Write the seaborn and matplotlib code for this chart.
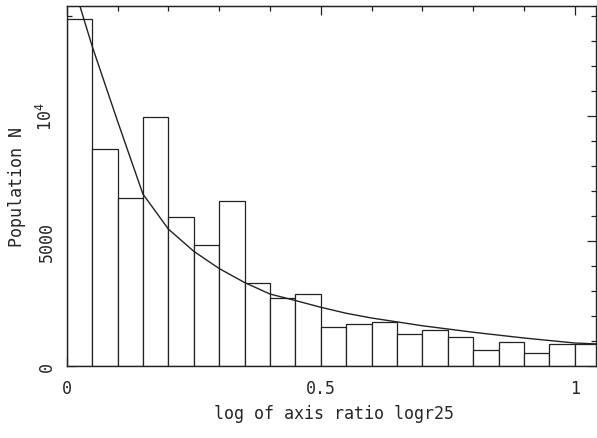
import numpy as np
import pandas as pd
import matplotlib
matplotlib.use('Agg')
import matplotlib.pyplot as plt
from matplotlib.ticker import MultipleLocator, FixedLocator, FixedFormatter, NullFormatter
import seaborn as sns

# histogram of log axis ratio, bins of 0.05
bin_left = [0.00, 0.05, 0.10, 0.15, 0.20, 0.25, 0.30, 0.35, 0.40, 0.45, 0.50,
            0.55, 0.60, 0.65, 0.70, 0.75, 0.80, 0.85, 0.90, 0.95, 1.00]
counts = [13900, 8680, 6710, 9970, 5950, 4850, 6590, 3320, 2720, 2900, 1550,
          1670, 1750, 1270, 1440, 1150, 650, 970, 530, 870, 900]

# fitted curve
curve_x = [0.010, 0.026, 0.050, 0.075, 0.100, 0.150, 0.200, 0.250, 0.300, 0.350,
           0.400, 0.450, 0.500, 0.550, 0.600, 0.700, 0.800, 0.900, 1.000, 1.045]
curve_y = [15500, 14400, 12800, 11300, 9800, 6880, 5480, 4590, 3900, 3340,
           2880, 2620, 2350, 2110, 1920, 1610, 1350, 1120, 920, 880]

binw = 0.05
hist_df = pd.DataFrame({'logr25': np.array(bin_left) + binw / 2, 'N': counts})
curve_df = pd.DataFrame({'logr25': curve_x, 'N': curve_y})

sns.set_style('ticks')
plt.rcParams['font.family'] = ['DejaVu Sans Mono']
plt.rcParams['mathtext.fontset'] = 'dejavusans'

ink = '#222222'
fig = plt.figure(figsize=(5.97, 4.39), dpi=100)
ax = fig.add_axes([0.1117, 0.164, 0.8865, 0.820])

sns.histplot(data=hist_df, x='logr25', weights='N', binwidth=binw,
             binrange=(0, bin_left[-1] + binw), ax=ax,
             facecolor='white', edgecolor=ink, linewidth=0.9, alpha=1)
sns.lineplot(data=curve_df, x='logr25', y='N', ax=ax, color=ink, linewidth=1.0)

ax.set_xlim(0, 1.0415)
ax.set_ylim(0, 14400)

ax.xaxis.set_major_locator(FixedLocator([0, 0.5, 1]))
ax.xaxis.set_major_formatter(FixedFormatter(['0', '0.5', '1']))
ax.xaxis.set_minor_locator(MultipleLocator(0.05))
ax.yaxis.set_major_locator(FixedLocator([0, 5000, 10000]))
ax.yaxis.set_major_formatter(FixedFormatter(['0', '5000', r'$\mathregular{10^4}$']))
ax.yaxis.set_minor_locator(MultipleLocator(1000))

ax.tick_params(which='both', direction='in', right=True, color=ink, width=0.9)
ax.tick_params(which='major', length=6.5)
ax.tick_params(which='minor', length=3.5)
ax.tick_params(axis='x', which='major', pad=9, labelsize=12)
ax.tick_params(axis='y', which='major', pad=8, labelsize=12)
for lab in ax.get_yticklabels():
    lab.set_rotation(90)
    lab.set_va('center')

# top axis has its minor ticks every 0.1
top = ax.secondary_xaxis('top')
top.xaxis.set_major_locator(FixedLocator([0, 0.5, 1]))
top.xaxis.set_minor_locator(MultipleLocator(0.1))
top.xaxis.set_major_formatter(NullFormatter())
top.tick_params(which='both', direction='in', color=ink, width=0.9)
top.tick_params(which='major', length=6.5)
top.tick_params(which='minor', length=3.5)
top.spines['top'].set_color(ink)

for s in ax.spines.values():
    s.set_linewidth(1.0)
    s.set_color(ink)

ax.set_xlabel('log of axis ratio logr25', fontsize=12)
ax.set_ylabel('Population N', fontsize=12)
ax.xaxis.set_label_coords(0.505, -0.105)
ax.yaxis.set_label_coords(-0.077, 0.5)

fig.savefig('out.png', dpi=100)
